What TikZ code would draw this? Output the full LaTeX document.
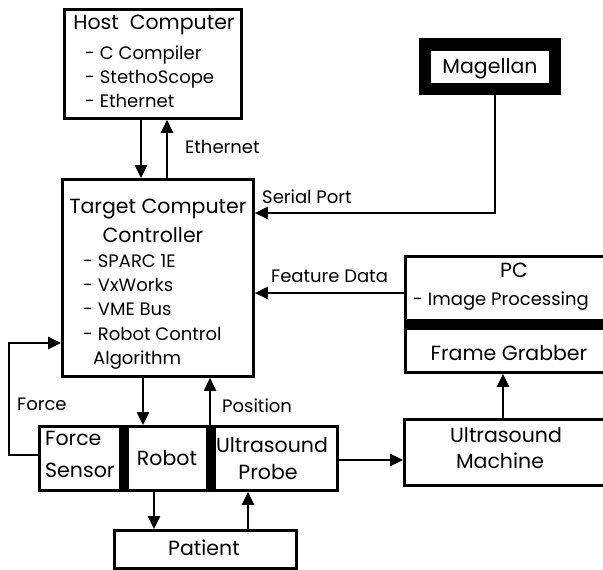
\documentclass[tikz,border=0pt]{standalone}
\usepackage{fontspec}
\setmainfont{Poppins}
\usetikzlibrary{arrows.meta}
\begin{document}
\begin{tikzpicture}[x=1pt,y=-1pt,
 box/.style={draw, line width=2.8pt, anchor=north west, inner sep=0pt},
 bar/.style={fill=black, draw=none, anchor=north west, inner sep=0pt},
 arr/.style={-{Triangle[length=13pt,width=12pt]}, line width=2.6pt},
 big/.style={font=\fontsize{20.5}{22}\selectfont, inner sep=0pt, anchor=base},
 sm/.style={font=\fontsize{18}{19}\selectfont, inner sep=0pt, anchor=base west}]
\useasboundingbox (0,0) rectangle (603,570);
% boxes
\node[box, minimum width=177pt, minimum height=109pt] (host) at (63,8) {};
\node[box, minimum width=191pt, minimum height=197pt] (target) at (61,178) {};
\node[box, fill=black, line width=1pt, minimum width=141pt, minimum height=56pt] (mag) at (419,38) {};
\node[bar, fill=white, minimum width=118pt, minimum height=32pt] (magin) at (431,51) {};
\node[box, minimum width=204pt, minimum height=116pt] (pc) at (404,255) {};
\node[bar, minimum width=204pt, minimum height=11pt] (pcbar) at (404,319) {};
\node[box, minimum width=298pt, minimum height=64pt] (row) at (38,425) {};
\node[bar, minimum width=10pt, minimum height=64pt] (bar1) at (119,425) {};
\node[bar, minimum width=10pt, minimum height=64pt] (bar2) at (206,425) {};
\node[box, minimum width=205pt, minimum height=66pt] (mach) at (403,418) {};
\node[box, minimum width=182pt, minimum height=38pt] (pat) at (113,529) {};
% texts
\node[big] (t1) at (154,30) {Host\ \ Computer};
\node[sm] (t2) at (85,59) {- C Compiler};
\node[sm] (t3) at (85,83) {- StethoScope};
\node[sm] (t4) at (85,107) {- Ethernet};
\node[sm] (t5) at (185,153) {Ethernet};
\node[big] (t6) at (158,213) {Target Computer};
\node[big] (t7) at (153,242) {Controller};
\node[sm] (t8) at (83,267) {- SPARC 1E};
\node[sm] (t9) at (83,291) {- VxWorks};
\node[sm] (t10) at (83,315) {- VME Bus};
\node[sm] (t11) at (83,340) {- Robot Control};
\node[sm] (t12) at (93,364) {Algorithm};
\node[big] (t13) at (490,73) {Magellan};
\node[sm] (t14) at (262,203) {Serial Port};
\node[sm] (t15) at (271,282) {Feature Data};
\node[big] (t16) at (514,277) {PC};
\node[sm] (t17) at (413,305) {- Image Processing};
\node[big] (t18) at (509,360) {Frame Grabber};
\node[sm] (t19) at (17,410) {Force};
\node[sm] (t20) at (222,412) {Position};
\node[big, anchor=base west] (t21) at (45,445) {Force};
\node[big, anchor=base west] (t22) at (45,477) {Sensor};
\node[big] (t23) at (167,465) {Robot};
\node[big] (t24) at (272,452) {Ultrasound};
\node[big] (t25) at (268,479) {Probe};
\node[big] (t26) at (506,442) {Ultrasound};
\node[big] (t27) at (500,468) {Machine};
\node[big] (t28) at (204,555) {Patient};
% connectors
\draw[arr] (host.south -| 141,0) -- (target.north -| 141,0);
\draw[arr] (target.north -| 167,0) -- (host.south -| 167,0);
\draw[arr] (mag.south -| 495,0) |- (target.east |- 0,213);
\draw[arr] (pc.west |- 0,293) -- (target.east |- 0,293);
\draw[arr] (row.west |- 0,455) -- (9,455) -- (9,343) -- (target.west |- 0,343);
\draw[arr] (target.south -| 143,0) -- (row.north -| 143,0);
\draw[arr] (row.north -| 210,0) -- (target.south -| 210,0);
\draw[arr] (row.south -| 154,0) -- (pat.north -| 154,0);
\draw[arr] (pat.north -| 248,0) -- (row.south -| 248,0);
\draw[arr] (row.east |- 0,460) -- (mach.west |- 0,460);
\draw[arr] (mach.north -| 503,0) -- (pc.south -| 503,0);
\end{tikzpicture}
\end{document}
